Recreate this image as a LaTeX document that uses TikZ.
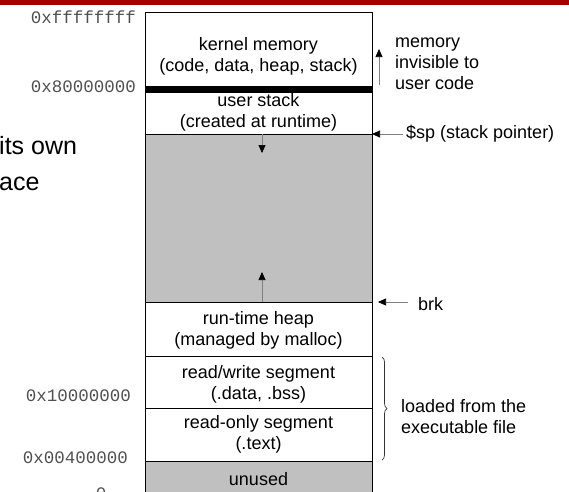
\documentclass[tikz,border=0pt]{standalone}
\usepackage{fontspec}
\setmainfont{Liberation Sans}
\setmonofont{Liberation Mono}
\usetikzlibrary{arrows.meta,decorations.pathreplacing,calc}
\definecolor{darkred}{RGB}{160,0,0}
\definecolor{regiongray}{RGB}{192,192,192}
\definecolor{hexgray}{RGB}{80,80,80}
\begin{document}
\begin{tikzpicture}[x=1pt,y=-1pt,
  region/.style={draw=black, line width=0.8pt, minimum width=227pt, inner sep=0pt, outer sep=0pt},
  txt/.style={align=center, font=\fontsize{18}{21}\selectfont, inner sep=0pt},
  hex/.style={font=\ttfamily\fontsize{17.5}{20}\selectfont, text=hexgray, anchor=east, inner sep=0pt},
  side/.style={align=left, anchor=west, font=\fontsize{18}{21}\selectfont, inner sep=0pt},
  ptr/.style={draw=gray, line width=0.7pt, -{Triangle[color=black,length=8pt,width=7pt]}},
]
\useasboundingbox (0,0) rectangle (569,491);
\clip (0,0) rectangle (569,491);
% top red bar
\fill[darkred] (0,0) rectangle (569,4.5);
% regions
\node[region, minimum height=74pt] (kernel) at (258.5,49) {};
\node[region, minimum height=42pt] (ustack) at (258.5,113) {};
\node[region, fill=black, minimum height=6pt] (bar) at (258.5,89) {};
\node[region, fill=regiongray, minimum height=168pt] (gap) at (258.5,218) {};
\node[region, minimum height=54pt] (heap) at (258.5,329) {};
\node[region, minimum height=52pt] (rw) at (258.5,382) {};
\node[region, minimum height=53pt] (ro) at (258.5,434.5) {};
\node[region, fill=regiongray, minimum height=36pt] (unused) at (258.5,479) {};
% region texts
\node[txt] (tkernel) at (258.5,56) {kernel memory\\(code, data, heap, stack)};
\node[txt] (tustack) at (258.5,112) {user stack\\(created at runtime)};
\node[txt] (theap) at (258.5,330.5) {run-time heap\\(managed by malloc)};
\node[txt] (trw) at (258.5,384) {read/write segment\\(.data, .bss)};
\node[txt] (tro) at (258.5,434) {read-only segment\\(.text)};
\node[txt] (tunused) at (258.5,479) {unused};
% stack / heap growth arrows
\coordinate (sdtop) at (262,134);
\coordinate (sdtip) at (262,153);
\coordinate (hutop) at (262,302);
\coordinate (hutip) at (262,272);
\draw[ptr] (sdtop) -- (sdtip);
\draw[ptr] (hutop) -- (hutip);
% hex labels
\node[hex] (hffff) at (136,17) {0xffffffff};
\node[hex] (h8000) at (136,87) {0x80000000};
\node[hex] (h1000) at (131,396) {0x10000000};
\node[hex] (h0040) at (128,458) {0x00400000};
\node[font=\ttfamily\fontsize{17.5}{20}\selectfont, text=hexgray, inner sep=0pt] (hzero) at (101,494) {0};
% right-side annotations
\coordinate (mbot) at (379,85);
\coordinate (mtop) at (379,49);
\draw[ptr] (mbot) -- (mtop);
\node[side] (tmem) at (395,64) {memory\\invisible to\\user code};
\coordinate (spfrom) at (403,134);
\draw[ptr] (spfrom) -- (ustack.south east);
\node[side] (tsp) at (406,134) {\$sp (stack pointer)};
\coordinate (brkfrom) at (408,302);
\coordinate (brktip) at (378,302);
\draw[ptr] (brkfrom) -- (brktip);
\node[side] (tbrk) at (418,304) {brk};
\draw[decorate, decoration={brace, amplitude=5pt}, draw=black!80, line width=0.7pt]
  ($(rw.north east)+(10,1)$) -- ($(ro.south east)+(10,-1)$);
\node[side] (tload) at (401,416.5) {loaded from the\\executable file};
% cut-off title text on the left
\node[anchor=west, font=\fontsize{25}{36}\selectfont, inner sep=0pt, align=left] (ttitle) at (-1,164) {its own\\ace};
\end{tikzpicture}
\end{document}
